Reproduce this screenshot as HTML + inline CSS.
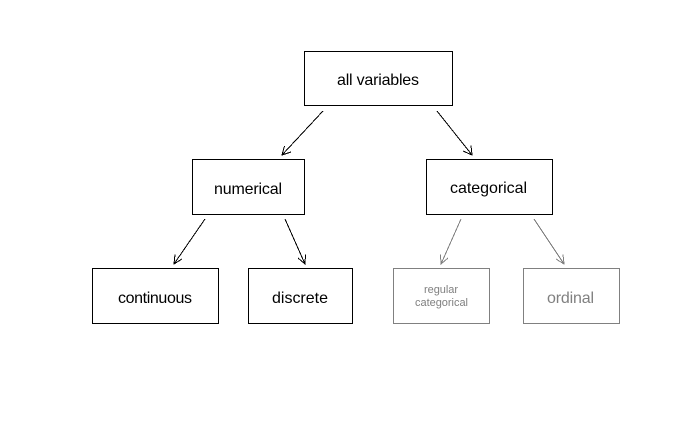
<!DOCTYPE html>
<html>
<head>
<meta charset="utf-8">
<title>Variable types</title>
<style>
html,body{margin:0;padding:0;background:#fff;}
svg{display:block;}
text{font-family:"Liberation Sans",Arial,sans-serif;text-anchor:middle;}
.box{fill:#fff;stroke:#000;stroke-width:1;shape-rendering:crispEdges;}
.box.g{stroke:#808080;}
.arrow{fill:none;stroke:#000;stroke-width:1;shape-rendering:crispEdges;}
.arrow.g{stroke:#808080;}
</style>
</head>
<body>
<svg id="diagram" width="700" height="432" viewBox="0 0 700 432" xmlns="http://www.w3.org/2000/svg">
  <rect width="700" height="432" fill="#fff"/>

  <g>
    <rect class="box" x="304.5" y="51.5" width="148" height="54"/>
    <text x="378" y="85" font-size="16" fill="#000" textLength="82" lengthAdjust="spacing">all variables</text>
  </g>
  <g>
    <rect class="box" x="192.5" y="159.5" width="112" height="55"/>
    <text x="248" y="194" font-size="16" fill="#000" textLength="68" lengthAdjust="spacing">numerical</text>
  </g>
  <g>
    <rect class="box" x="426.5" y="159.5" width="126" height="55"/>
    <text x="488.5" y="193" font-size="16" fill="#000" textLength="77" lengthAdjust="spacing">categorical</text>
  </g>
  <g>
    <rect class="box" x="92.5" y="268.5" width="126" height="55"/>
    <text x="155" y="303" font-size="16" fill="#000" textLength="74" lengthAdjust="spacing">continuous</text>
  </g>
  <g>
    <rect class="box" x="248.5" y="268.5" width="104" height="55"/>
    <text x="300" y="303" font-size="16" fill="#000" textLength="56" lengthAdjust="spacing">discrete</text>
  </g>
  <g>
    <rect class="box g" x="393.5" y="268.5" width="96" height="55"/>
    <text x="441" y="293" font-size="11" fill="#808080" textLength="34" lengthAdjust="spacing">regular</text>
    <text x="441.5" y="306" font-size="11" fill="#808080" textLength="53" lengthAdjust="spacing">categorical</text>
  </g>
  <g>
    <rect class="box g" x="523.5" y="268.5" width="96" height="55"/>
    <text x="570.5" y="303" font-size="16" fill="#808080" textLength="47" lengthAdjust="spacing">ordinal</text>
  </g>

  <g class="arrow">
    <path d="M323 111L282 155"/>
    <path d="M291 152L282 155L284.5 146"/>
  </g>
  <g class="arrow">
    <path d="M437 111L472 155"/>
    <path d="M463 151L472 155L471 145.5"/>
  </g>
  <g class="arrow">
    <path d="M205 219L174 264"/>
    <path d="M182 259L174 264L175 254.5"/>
  </g>
  <g class="arrow">
    <path d="M285 219L305 264"/>
    <path d="M298 258L305 264L305.5 254.5"/>
  </g>
  <g class="arrow g">
    <path d="M461 219L441 264"/>
    <path d="M448 258L441 264L440.5 254.5"/>
  </g>
  <g class="arrow g">
    <path d="M534 219L564 264"/>
    <path d="M556 259L564 264L563 254.5"/>
  </g>
</svg>
</body>
</html>
